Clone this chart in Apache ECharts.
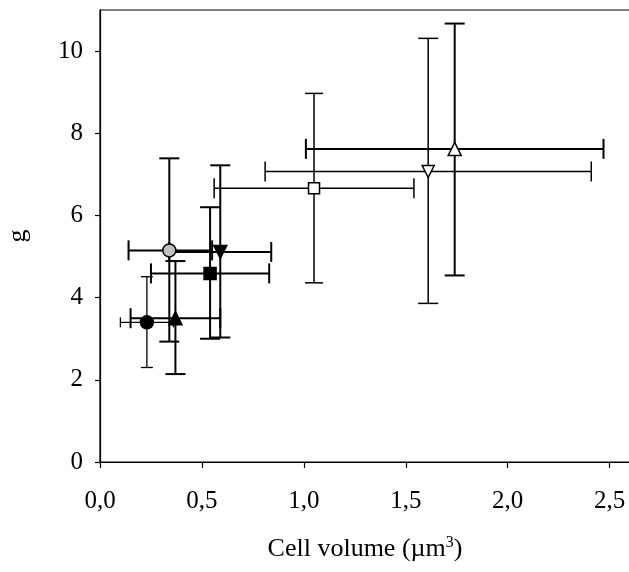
<!DOCTYPE html>
<html>
<head>
<meta charset="utf-8">
<script src="https://cdn.jsdelivr.net/npm/echarts@6/dist/echarts.min.js"></script>
<style>
  html, body { margin: 0; padding: 0; background: #fff; }
  #container { width: 629px; height: 572px; }
</style>
</head>
<body>
<div id="container"></div>
<script type="text/javascript">
// ---- data ----
var groups = ['A', 'B', 'C', 'D', 'E', 'F', 'G', 'H'];
var volume = [0.23, 0.37, 0.34, 0.54, 0.59, 1.05, 1.61, 1.74];   // cell volume (um3)
var gVals  = [3.40, 3.50, 5.15, 4.59, 5.11, 6.66, 7.07, 7.62];   // g
var volLow  = [0.10, 0.15, 0.14, 0.25, 0.34, 0.56, 0.81, 1.01];
var volHigh = [0.36, 0.59, 0.55, 0.83, 0.84, 1.54, 2.41, 2.47];
var gLow  = [2.30, 2.14, 2.93, 3.00, 3.03, 4.36, 3.86, 4.54];
var gHigh = [4.51, 4.89, 7.39, 6.20, 7.22, 8.97, 10.31, 10.67];
var xTicks = [0, 0.5, 1, 1.5, 2, 2.5];
var yTicks = [0, 2, 4, 6, 8, 10];

// ---- marker / bar styles ----
var symbols   = ['circle', 'triangle', 'circle', 'rect', 'triangle', 'rect', 'triangle', 'triangle'];
var rotations = [0, 0, 0, 0, 180, 0, 180, 0];
var fills     = ['#000', '#000', '#c0c0c0', '#000', '#000', '#fff', '#fff', '#fff'];
var sizes     = [13, 13, 13, 12, 13, 11, 12, 13];
var barWidth  = [1.3, 2, 2, 2, 2, 1.5, 1.5, 2];
var capHalfX  = [5, 10, 10, 10, 10, 10, 10, 10];   // caps on the horizontal bars
var capHalfY  = [6, 10, 10, 10, 10, 9, 10, 10];    // caps on the vertical bars

var serif = 'Liberation Serif';

function fmtX(v) { return v.toFixed(1).replace('.', ','); }

var errData = volume.map(function (x, i) {
    return [x, gVals[i], volLow[i], volHigh[i], gLow[i], gHigh[i]];
});

function renderErr(params, api) {
    var i = params.dataIndex;
    var c = api.coord([api.value(0), api.value(1)]);
    var xl = api.coord([api.value(2), api.value(1)]);
    var xh = api.coord([api.value(3), api.value(1)]);
    var yl = api.coord([api.value(0), api.value(4)]);
    var yh = api.coord([api.value(0), api.value(5)]);
    var st = { stroke: '#000', lineWidth: barWidth[i], fill: null };
    var cx = capHalfX[i], cy = capHalfY[i];
    return {
        type: 'group',
        children: [
            { type: 'line', shape: { x1: xl[0], y1: c[1], x2: xh[0], y2: c[1] }, style: st },
            { type: 'line', shape: { x1: c[0], y1: yl[1], x2: c[0], y2: yh[1] }, style: st },
            { type: 'line', shape: { x1: xl[0], y1: c[1] - cx, x2: xl[0], y2: c[1] + cx }, style: st },
            { type: 'line', shape: { x1: xh[0], y1: c[1] - cx, x2: xh[0], y2: c[1] + cx }, style: st },
            { type: 'line', shape: { x1: c[0] - cy, y1: yl[1], x2: c[0] + cy, y2: yl[1] }, style: st },
            { type: 'line', shape: { x1: c[0] - cy, y1: yh[1], x2: c[0] + cy, y2: yh[1] }, style: st }
        ]
    };
}

var markerData = volume.map(function (x, i) {
    return {
        name: groups[i],
        value: [x, gVals[i]],
        symbol: symbols[i],
        symbolRotate: rotations[i],
        symbolSize: sizes[i],
        itemStyle: { color: fills[i], borderColor: '#000', borderWidth: 1.5, opacity: 1 }
    };
});

var myChart = echarts.init(document.getElementById('container'), null, { renderer: 'canvas' });

var option = {
    backgroundColor: '#fff',
    animation: false,
    grid: {
        left: 100, top: 10, width: 530, height: 452,
        outerBoundsMode: 'none',
        containLabel: false,
        show: true, borderColor: '#000', borderWidth: 1.2, backgroundColor: 'transparent'
    },
    xAxis: {
        type: 'value',
        min: 0, max: 2.6, interval: 0.5,
        name: 'Cell volume (\u00b5m{sup|3})',
        nameLocation: 'middle',
        nameGap: 73,
        nameTextStyle: {
            fontFamily: serif, fontSize: 26, color: '#000',
            rich: { sup: { fontFamily: serif, fontSize: 16, color: '#000', verticalAlign: 'top', padding: [0, 0, 12, 0] } }
        },
        axisLine: { lineStyle: { color: '#000', width: 1.2 } },
        axisTick: { length: 6, lineStyle: { color: '#000', width: 1.2 }, customValues: xTicks },
        axisLabel: {
            fontFamily: serif, fontSize: 25, color: '#000', margin: 27,
            customValues: xTicks, formatter: fmtX
        },
        splitLine: { show: false }
    },
    yAxis: {
        type: 'value',
        min: 0, max: 11, interval: 2,
        name: 'g',
        nameLocation: 'middle',
        nameRotate: 90,
        nameGap: 69,
        nameTextStyle: { fontFamily: serif, fontSize: 26, color: '#000' },
        axisLine: { lineStyle: { color: '#000', width: 1.2 } },
        axisTick: { length: 5, lineStyle: { color: '#000', width: 1.2 }, customValues: yTicks },
        axisLabel: {
            fontFamily: serif, fontSize: 25, color: '#000', margin: 17,
            customValues: yTicks
        },
        splitLine: { show: false }
    },
    series: [
        {
            type: 'custom',
            renderItem: renderErr,
            data: errData,
            encode: { x: 0, y: 1 },
            z: 2
        },
        {
            type: 'scatter',
            data: markerData,
            itemStyle: { opacity: 1 },
            z: 3
        }
    ]
};

myChart.setOption(option);
</script>
</body>
</html>
